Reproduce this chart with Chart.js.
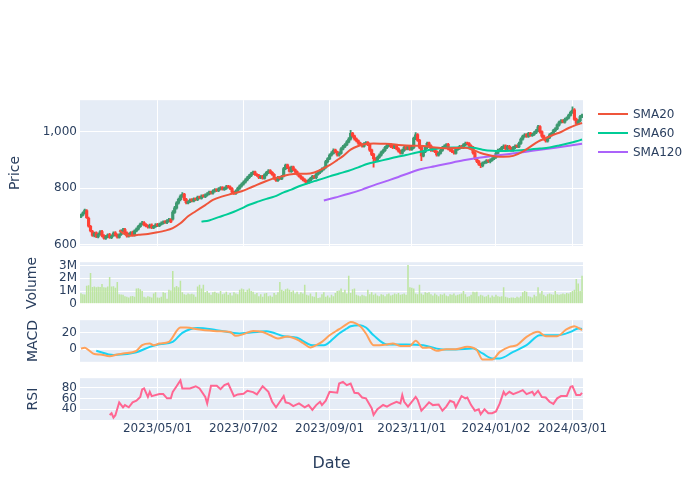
<!DOCTYPE html>
<html lang="en">
<head>
<meta charset="UTF-8">
<title>Price, Volume, MACD and RSI</title>
<script src="https://cdn.jsdelivr.net/npm/chart.js"></script>
<style>
  body { margin: 0; background: #ffffff; font-family: 'DejaVu Sans', sans-serif; }
  #fig { position: relative; width: 700px; height: 500px; overflow: hidden; background: #ffffff; }
  #fig canvas { position: absolute; left: 0; }
  .legend { position: absolute; left: 598px; top: 104px; color: #2a3f5f; font-size: 12px; }
  .legend div { height: 19px; display: flex; align-items: center; white-space: nowrap; }
  .legend .line { display: inline-block; width: 30px; height: 2px; margin-right: 5px; }
</style>
</head>
<body>
<div id="fig">
  <canvas id="cPrice" width="700" height="166" style="top:90px"></canvas>
  <canvas id="cVol" width="700" height="62" style="top:252px"></canvas>
  <canvas id="cMacd" width="700" height="62" style="top:310px"></canvas>
  <canvas id="cRsi" width="700" height="132" style="top:368px"></canvas>
  <div class="legend">
    <div><span class="line" style="background:#EF553B"></span>SMA20</div>
    <div><span class="line" style="background:#00CC96"></span>SMA60</div>
    <div><span class="line" style="background:#AB63FA"></span>SMA120</div>
  </div>
</div>
<script>
// x axis: one slot per trading day, labels placed on a few days
const tickIdx = [40, 85, 130, 173, 217, 257];
const tickLabels = ['2023/05/01', '2023/07/02', '2023/09/01', '2023/11/01', '2024/01/02', '2024/03/01'];

const priceTicks = [600, 800, 1000];
const volTicks = [0, 1, 2, 3];      // millions
const macdTicks = [0, 20];
const rsiTicks = [40, 60, 80];

const openArr = [698,704,711,720,693,664,646,631,641,627,
 636,646,631,621,627,635,624,631,641,634,
 625,635,647,653,641,629,635,643,632,647,
 654,663,671,678,671,667,661,669,659,663,
 671,666,671,675,681,677,683,689,690,714,
 729,747,759,771,779,761,747,751,759,754,
 763,759,769,764,773,769,775,779,787,782,
 789,796,791,797,803,795,799,807,805,799,
 787,781,789,799,807,814,821,829,837,844,
 851,858,849,846,837,843,835,847,855,863,
 856,849,836,827,839,833,843,869,883,873,
 859,876,866,859,851,843,837,831,826,819,
 827,834,843,837,849,855,861,867,873,894,
 904,917,924,936,929,917,924,939,947,954,
 964,974,996,986,976,969,961,956,949,957,
 963,956,936,921,906,899,909,917,927,934,
 944,951,956,949,944,953,941,933,924,934,
 946,939,949,937,944,977,991,971,946,914,
 929,944,961,951,934,941,931,917,924,934,
 944,949,956,941,936,931,924,937,941,949,
 944,954,961,959,951,946,926,906,896,886,
 879,889,891,899,894,899,904,909,924,934,
 937,944,951,939,949,943,934,944,951,947,
 959,974,984,991,984,996,987,991,997,1004,
 1019,1001,986,976,967,979,989,994,1004,1011,
 1024,1034,1041,1035,1044,1049,1059,1069,1079,1046,
 1029,1039,1054];

const highArr = [708,716,726,724,697,668,650,644,645,640,
 649,650,635,632,638,639,634,645,646,638,
 638,652,657,657,645,640,646,647,652,659,
 668,676,682,681,674,670,672,673,668,674,
 675,676,680,684,685,688,693,692,720,735,
 752,765,776,784,782,764,756,762,763,766,
 766,772,772,776,777,780,784,790,790,794,
 799,799,802,806,806,804,810,810,808,802,
 790,794,804,812,819,826,834,842,849,856,
 861,861,852,849,846,846,852,860,866,866,
 859,852,839,842,842,846,874,886,886,876,
 879,879,869,862,854,846,840,834,829,832,
 839,846,846,854,860,866,872,876,899,909,
 922,930,940,939,932,929,944,952,959,969,
 980,1006,999,989,979,972,964,959,962,966,
 966,959,939,924,909,914,922,932,939,949,
 956,959,959,952,956,956,944,936,939,949,
 949,952,952,949,982,998,994,974,949,934,
 949,964,964,954,944,944,934,929,939,949,
 954,959,960,944,939,934,942,946,952,952,
 959,964,964,962,954,949,929,909,899,889,
 894,896,902,902,904,909,914,929,939,942,
 949,954,954,952,952,946,949,954,954,964,
 979,989,994,994,999,999,996,1002,1009,1024,
 1023,1004,989,979,984,994,999,1009,1016,1029,
 1039,1044,1044,1049,1054,1064,1074,1089,1083,1049,
 1044,1059,1064];

const lowArr = [695,701,708,692,661,644,628,627,624,623,
 633,627,619,618,624,621,620,628,629,622,
 622,632,644,637,626,626,632,629,629,644,
 651,660,668,666,662,658,658,656,656,660,
 663,663,668,672,675,674,680,677,686,710,
 725,743,755,767,756,744,744,748,751,751,
 756,756,762,761,767,766,772,776,779,779,
 786,788,788,794,793,792,796,801,795,782,
 778,778,786,796,804,811,818,826,834,841,
 848,845,842,834,834,832,832,844,852,852,
 845,831,824,824,830,830,840,866,869,857,
 856,862,855,846,839,832,826,821,816,816,
 824,831,834,834,846,852,858,864,870,890,
 901,914,921,925,914,914,921,936,944,951,
 961,971,981,971,965,956,951,946,946,954,
 951,931,916,875,896,896,906,914,924,931,
 941,948,944,941,941,936,928,921,921,931,
 936,936,934,934,941,973,966,941,898,911,
 926,941,946,931,931,926,914,914,921,931,
 941,946,936,931,926,921,921,934,938,941,
 941,951,954,946,941,921,901,891,881,873,
 876,886,888,891,890,896,901,906,921,931,
 934,941,936,936,938,931,931,941,944,944,
 956,971,981,981,981,984,984,988,994,1001,
 996,981,971,964,964,976,986,991,1001,1008,
 1021,1031,1032,1031,1041,1046,1056,1066,1041,1026,
 1026,1036,1051];

const closeArr = [705,712,722,695,665,648,632,640,628,636,
 645,630,622,628,634,625,630,640,633,626,
 634,648,652,640,630,636,642,633,648,655,
 664,672,677,670,666,662,668,660,664,670,
 667,672,676,680,678,684,688,680,715,730,
 748,760,772,778,760,748,752,758,755,762,
 760,768,765,772,770,776,780,786,783,790,
 795,792,798,802,796,800,806,804,798,786,
 782,790,800,808,815,822,830,838,845,852,
 857,848,845,838,842,836,848,856,862,855,
 848,835,828,838,834,842,870,882,872,860,
 875,865,858,850,842,836,830,825,820,828,
 835,842,838,850,856,862,868,872,895,905,
 918,925,935,928,918,925,940,948,955,965,
 975,995,985,975,968,960,955,950,958,962,
 955,935,920,905,900,910,918,928,935,945,
 952,955,948,945,952,940,932,925,935,945,
 940,948,938,945,978,990,970,945,915,930,
 945,960,950,935,940,930,918,925,935,945,
 950,955,940,935,930,925,938,942,948,945,
 955,960,958,950,945,925,905,895,885,880,
 890,892,898,895,900,905,910,925,935,938,
 945,950,940,948,942,935,945,950,948,960,
 975,985,990,985,995,988,992,998,1005,1018,
 1000,985,975,968,980,990,995,1005,1012,1025,
 1035,1040,1036,1045,1050,1060,1070,1078,1045,1030,
 1040,1055,1060];

// volume in millions of shares
const volArr = [0.83,0.75,0.72,1.42,1.45,2.42,1.32,1.35,1.3,1.33,
 1.32,1.55,1.3,1.28,1.35,2.1,1.35,1.38,1.25,1.7,
 0.75,0.72,0.7,0.6,0.55,0.5,0.6,0.62,0.55,1.2,
 1.22,1.15,1.0,0.55,0.5,0.6,0.55,0.5,0.8,0.9,
 0.5,0.48,0.55,0.9,0.85,0.4,1.1,1.05,2.58,1.3,
 1.4,1.3,1.8,0.9,0.75,0.7,0.8,0.75,0.78,0.72,
 0.55,1.35,1.5,1.2,1.5,0.9,1.0,0.85,0.7,0.9,
 0.95,0.85,0.8,1.0,0.75,0.8,0.95,0.7,0.85,0.65,
 0.9,0.8,0.75,1.1,1.2,1.15,0.95,1.1,1.2,1.0,
 0.95,0.75,0.85,0.6,0.75,0.55,0.8,0.85,0.6,0.65,
 0.55,0.85,0.7,0.9,1.7,1.1,1.0,1.15,1.2,1.1,
 0.95,1.05,0.8,0.95,0.75,0.9,0.8,1.5,0.7,0.65,
 0.8,0.6,0.55,0.9,0.45,0.5,0.75,0.9,0.55,0.65,
 0.5,0.7,0.6,0.85,1.0,1.05,1.2,0.9,1.1,0.8,
 2.2,0.85,1.15,1.2,0.7,0.65,0.6,0.7,0.65,0.6,
 1.1,0.75,0.9,0.7,0.8,0.65,0.6,0.75,0.7,0.6,
 0.75,0.8,0.65,0.7,0.8,0.75,0.85,0.7,0.75,0.8,
 0.7,3.05,1.3,1.25,1.2,0.8,0.75,1.5,0.8,0.7,
 0.9,0.85,0.9,0.75,0.65,0.8,0.7,0.6,0.75,0.7,
 0.8,0.65,0.6,0.75,0.7,0.8,0.65,0.7,0.75,0.8,
 1.0,0.75,0.55,0.6,0.7,0.95,0.9,0.95,0.6,0.7,
 0.65,0.55,0.6,0.7,0.5,0.65,0.55,0.7,0.6,0.55,
 0.6,1.3,0.55,0.5,0.45,0.5,0.5,0.45,0.55,0.5,
 0.6,0.9,1.0,0.95,0.6,0.55,0.5,0.7,0.6,1.3,
 0.8,1.0,0.7,0.6,0.75,0.8,0.75,0.7,1.0,0.75,
 0.7,0.75,0.8,0.75,0.85,0.8,0.9,1.0,1.1,1.95,
 1.6,1.0,2.2];

// moving averages, read at sample days
const sma20Idx = [20,23,26,30,35,40,44,48,52,56,60,65,69,74,79,84,88,92,96,100,105,109,114,118,122,126,130,134,137,141,145,149,153,158,162,166,170,175,179,184,188,193,197,201,205,209,213,217,221,226,231,235,239,243,247,251,255,259,262];
const sma20 = [650,636,631,634,637,643,649,658,675,700,718,740,758,771,780,789,800,812,823,833,842,849,851,851,856,868,882,900,914,937,950,957,959,958,957,954,952,951,950,946,943,942,943,944,936,925,918,913,912,915,930,948,966,978,990,1000,1014,1025,1032];

const sma60Idx = [63,67,72,76,80,84,88,93,97,101,106,110,114,118,122,126,130,135,140,145,150,155,160,165,170,175,180,185,190,195,200,205,210,215,220,225,230,235,240,245,250,255,259,262];
const sma60 = [681,685,697,706,716,728,741,753,762,770,785,795,807,816,825,833,842,852,862,874,887,895,903,911,918,926,933,939,944,945,945,944,937,933,932,933,935,938,941,945,952,960,967,973];

const sma120Idx = [127,133,140,147,153,160,166,172,178,185,192,200,208,216,224,232,240,248,256,262];
const sma120 = [756,767,780,795,810,826,840,855,868,878,888,899,908,915,922,929,937,944,952,958];

const macdIdx = [0,2,4,7,10,15,19,22,29,32,36,38,41,46,52,55,62,71,78,81,85,90,95,99,103,108,113,116,120,123,126,130,135,139,141,146,149,153,156,160,163,167,172,175,179,182,186,191,196,202,207,210,215,219,224,228,233,239,243,249,254,258,262];
const macd = [0.8,1.6,-1.2,-6,-6.5,-8.6,-6.5,-5.3,-2,4.9,6.9,4.9,6.9,9,26.5,26.5,24,22,21,16.3,18.4,22.4,21,17,13,15.5,11.8,7.7,2,4.9,9,17,24.5,30.6,33.4,28,19.2,4.9,4.9,5.7,6.9,4,4,10.2,1.6,2,-2,0,0,2.8,-1.2,-12.7,-12.7,-3.3,2.8,4.9,15.1,21.2,15.9,15.9,24.5,28.2,23.3];

const signalIdx = [8,17,29,36,41,48,53,61,71,83,97,106,113,121,127,132,135,139,141,146,149,153,160,170,179,188,196,205,210,215,219,226,233,240,249,256,260,262];
const signal = [-2,-7.3,-3.7,2.8,6.1,9,20,26,23.3,19.2,22,15.9,13.9,4.9,4.9,13,19.2,25.3,28,29.4,26.5,17,5.7,5.7,4.9,0,-0.4,0.8,-5.3,-11.4,-11.4,-3.3,4.9,17,17,21.2,25.3,24.7];

const rsiIdx = [15,16,17,18,20,22,23,25,27,29,31,32,33,35,36,37,41,43,45,47,48,50,52,53,57,60,62,65,66,68,71,73,75,77,80,82,85,87,90,92,95,98,100,102,104,106,107,109,111,114,117,119,121,123,125,126,128,130,134,135,137,139,141,143,145,147,149,152,153,155,158,160,162,165,167,168,169,171,175,176,178,180,182,184,187,189,191,193,195,196,199,201,202,204,206,208,209,211,213,215,217,219,221,222,224,226,229,231,233,236,237,239,241,243,245,247,249,251,254,256,257,259,261,262];
const rsi = [29.4,32.6,24.5,29,53,43.7,47.8,43.7,53,56,63,77,79,63,72.6,64.6,68.3,68.3,60.4,60.4,72.6,83,94,79,79,83,79,63,51,84,84,77.6,85,88,64.6,67.8,69,74.5,72,67.8,83,72.6,54,43.7,54,64.6,53,51,46,51,43.7,47.8,38.7,47.8,54,47.8,56,72.6,71,88,91,85,88,70.7,70,62,60.4,41.9,29.4,40,48,45,49,54,51,66.5,54,45,63,57.8,37.4,45,53,47.8,49,37.4,45,56,53,43.7,64.6,60.4,62,47.8,37.4,40,30.7,40,32.6,32.6,35.8,51,72.6,66.5,72.6,68.3,72.6,75.7,68.3,72.6,66.5,74.5,63,62,54,50,60.4,64.6,64.6,82,83,66.5,66.5,70.7];

const nDays = closeArr.length;
const FONT = "'DejaVu Sans', sans-serif";
const INK = '#2a3f5f';
const UP = '#3D9970';
const DOWN = '#FF4136';

const plotBg = {
    id: 'plotBg',
    beforeDraw(chart) {
        const a = chart.chartArea;
        const ctx = chart.ctx;
        ctx.save();
        ctx.fillStyle = '#E5ECF6';
        ctx.fillRect(a.left, a.top, a.right - a.left, a.bottom - a.top);
        ctx.restore();
    }
};

function pts(idx, vals) {
    return idx.map((x, k) => ({ x: x, y: vals[k] }));
}

function xScale(showGrid, bottom) {
    return {
        type: 'linear',
        min: -0.5,
        max: nDays - 0.5,
        offset: false,
        grid: { display: showGrid, color: '#ffffff', lineWidth: 1, drawTicks: false, offset: false },
        border: { display: false },
        afterBuildTicks: s => { s.ticks = tickIdx.map(v => ({ value: v })); },
        ticks: {
            display: bottom, autoSkip: false, maxRotation: 0, minRotation: 0, padding: 2,
            color: INK, font: { family: FONT, size: 12 },
            callback: (v, i) => tickLabels[i]
        },
        title: {
            display: bottom, text: 'Date', color: INK,
            font: { family: FONT, size: 16 }, padding: { top: 0, bottom: 27 }
        },
        afterFit: s => { s.height = bottom ? 80 : 0; }
    };
}

function yScale(min, max, ticks, title, titlePad, fmt, zeroWidth) {
    return {
        type: 'linear',
        min: min,
        max: max,
        grid: {
            color: '#ffffff', drawTicks: false,
            lineWidth: ctx => (zeroWidth && ctx.tick && ctx.tick.value === 0) ? zeroWidth : 1
        },
        border: { display: false },
        afterBuildTicks: s => { s.ticks = ticks.map(v => ({ value: v })); },
        ticks: { autoSkip: false, padding: 3, color: INK, font: { family: FONT, size: 12 }, callback: fmt },
        title: {
            display: true, text: title, color: INK,
            font: { family: FONT, size: 14 }, padding: { top: titlePad, bottom: 0 }
        },
        afterFit: s => { s.width = 80; }
    };
}

function makeChart(id, datasets, xOpts, yOpts, padBottom) {
    return new Chart(document.getElementById(id), {
        type: 'bar',
        data: { datasets: datasets },
        options: {
            responsive: false,
            animation: false,
            devicePixelRatio: 1,
            events: [],
            layout: { padding: { left: 0, right: 117, top: 10, bottom: padBottom } },
            scales: { x: xOpts, y: yOpts },
            plugins: { legend: { display: false }, tooltip: { enabled: false } }
        },
        plugins: [plotBg]
    });
}

const candleColor = closeArr.map((c, i) => c >= openArr[i] ? UP : DOWN);

function smaLine(label, idx, vals, color) {
    return {
        type: 'line', label: label, data: pts(idx, vals),
        borderColor: color, borderWidth: 2, pointRadius: 0,
        cubicInterpolationMode: 'monotone', order: 0
    };
}

makeChart('cPrice', [
    smaLine('SMA20', sma20Idx, sma20, '#EF553B'),
    smaLine('SMA60', sma60Idx, sma60, '#00CC96'),
    smaLine('SMA120', sma120Idx, sma120, '#AB63FA'),
    {
        label: 'body', data: openArr.map((o, i) => ({ x: i, y: [o, closeArr[i]] })),
        backgroundColor: candleColor, barThickness: 2.5, minBarLength: 1, grouped: false, order: 1
    },
    {
        label: 'wick', data: highArr.map((h, i) => ({ x: i, y: [lowArr[i], h] })),
        backgroundColor: candleColor, barThickness: 1.2, grouped: false, order: 2
    }
], xScale(true, false), yScale(595, 1113, priceTicks, 'Price', 7, v => v.toLocaleString('en-US')), 10);

makeChart('cVol', [
    {
        label: 'Volume', data: volArr.map((v, i) => ({ x: i, y: v })),
        backgroundColor: '#bde5a0', barPercentage: 0.8, categoryPercentage: 1.0
    }
], xScale(false, false), yScale(0, 3.26, volTicks, 'Volume', 24, v => v === 0 ? '0' : v + 'M'), 10);

makeChart('cMacd', [
    {
        type: 'line', label: 'MACD', data: pts(macdIdx, macd),
        borderColor: '#FFA15A', borderWidth: 2, pointRadius: 0, cubicInterpolationMode: 'monotone'
    },
    {
        type: 'line', label: 'Signal', data: pts(signalIdx, signal),
        borderColor: '#19D3F3', borderWidth: 2, pointRadius: 0, cubicInterpolationMode: 'monotone'
    }
], xScale(true, false), yScale(-15.5, 35.5, macdTicks, 'MACD', 25, v => String(v), 2), 10);

makeChart('cRsi', [
    {
        type: 'line', label: 'RSI', data: pts(rsiIdx, rsi),
        borderColor: '#FF6692', borderWidth: 2, pointRadius: 0, tension: 0
    }
], xScale(true, true), yScale(20, 98, rsiTicks, 'RSI', 25, v => String(v)), 0);
</script>
</body>
</html>
